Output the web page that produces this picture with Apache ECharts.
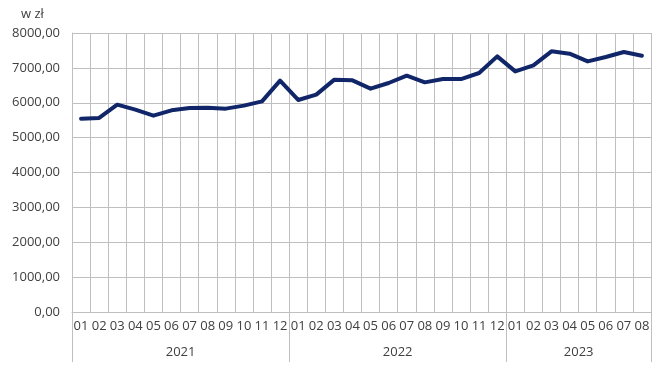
<!DOCTYPE html>
<html>
<head>
<meta charset="utf-8">
<script src="https://cdn.jsdelivr.net/npm/echarts@6/dist/echarts.min.js"></script>
<style>html,body{margin:0;padding:0;background:#fff}#c{width:662px;height:375px}</style>
</head>
<body>
<div id="c"></div>
<script>
const months = ['01','02','03','04','05','06','07','08','09','10','11','12',
                '01','02','03','04','05','06','07','08','09','10','11','12',
                '01','02','03','04','05','06','07','08'];
const years = ['2021','2022','2023'];
const yearBoundaries = [0, 12, 24, 32];
const yearCenters = [6, 18, 28];
const values = [5544, 5564, 5946, 5802, 5630, 5783, 5850, 5860, 5831, 5917, 6040, 6633,
                6080, 6232, 6662, 6642, 6404, 6566, 6777, 6585, 6680, 6680, 6853, 7330,
                6900, 7072, 7474, 7407, 7186, 7312, 7455, 7350];
const yTicks = [0, 1000, 2000, 3000, 4000, 5000, 6000, 7000, 8000];

const font = '"Open Sans", "DejaVu Sans", sans-serif';
const txt = '#404040';
const gridCol = '#bfbfbf';

const chart = echarts.init(document.getElementById('c'), null, {renderer: 'canvas'});
chart.setOption({
  animation: false,
  backgroundColor: '#fff',
  title: {
    text: 'w zł', left: 16, top: 3,
    textStyle: {fontFamily: font, fontSize: 13, fontWeight: 'normal', color: txt}
  },
  grid: {left: 72, right: 11, top: 33, bottom: 63, containLabel: false},
  xAxis: [
    {
      type: 'category', data: months, boundaryGap: true, position: 'bottom',
      axisLine: {show: true, lineStyle: {color: gridCol, width: 1}},
      axisTick: {show: false},
      splitLine: {show: true, interval: 0, lineStyle: {color: gridCol, width: 1}},
      axisLabel: {interval: 0, margin: 8, color: txt, fontFamily: font, fontSize: 13}
    },
    {
      type: 'value', min: 0, max: 32, position: 'bottom', offset: 0,
      axisLine: {show: false},
      splitLine: {show: false},
      axisTick: {show: true, customValues: yearBoundaries, length: 50, lineStyle: {color: gridCol, width: 1}},
      axisLabel: {
        show: true, customValues: yearCenters, margin: 34,
        color: txt, fontFamily: font, fontSize: 13,
        formatter: function (v) { return years[yearCenters.indexOf(v)]; }
      }
    }
  ],
  yAxis: {
    type: 'value', min: yTicks[0], max: yTicks[yTicks.length - 1], interval: 1000,
    axisLine: {show: true, lineStyle: {color: gridCol}},
    axisTick: {show: false},
    splitLine: {show: true, lineStyle: {color: gridCol, width: 1}},
    axisLabel: {
      margin: 12, color: txt, fontFamily: font, fontSize: 13,
      formatter: function (v) { return v.toFixed(2).replace('.', ','); }
    }
  },
  series: [{
    type: 'line', xAxisIndex: 0, data: values,
    symbol: 'none', smooth: false,
    lineStyle: {color: '#102668', width: 4, join: 'round', cap: 'round'},
    z: 5
  }]
});
</script>
</body>
</html>
